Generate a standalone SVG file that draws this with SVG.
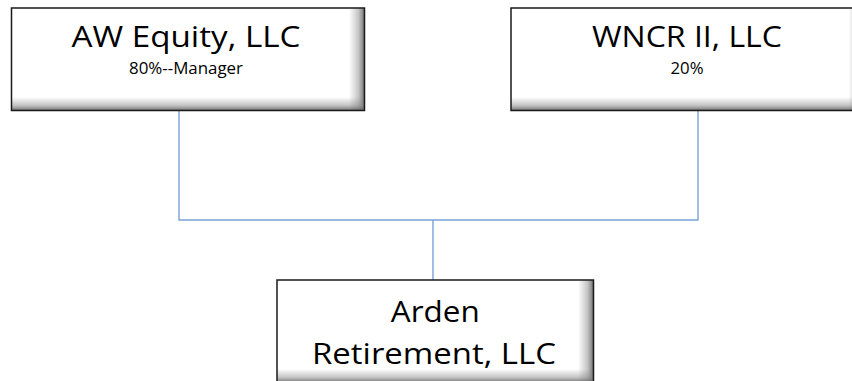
<svg xmlns="http://www.w3.org/2000/svg" width="852" height="381" viewBox="0 0 852 381">
<defs>
<linearGradient id="gr" x1="0" y1="0" x2="1" y2="0">
<stop offset="0" stop-color="#808080" stop-opacity="0"/>
<stop offset="0.6" stop-color="#808080" stop-opacity="0.45"/>
<stop offset="1" stop-color="#606060" stop-opacity="0.9"/>
</linearGradient>
<linearGradient id="gb" x1="0" y1="0" x2="0" y2="1">
<stop offset="0" stop-color="#808080" stop-opacity="0"/>
<stop offset="0.6" stop-color="#808080" stop-opacity="0.45"/>
<stop offset="1" stop-color="#606060" stop-opacity="0.9"/>
</linearGradient>
<style>
.box{fill:#ffffff}
.edge{fill:none;stroke:#1a1a1a;stroke-width:1.5}
.t{font-family:"Open Sans","Liberation Sans",sans-serif;font-size:29px;fill:#000;text-anchor:middle}
.s{font-family:"Open Sans","Liberation Sans",sans-serif;font-size:16px;fill:#000;text-anchor:middle}
.c{fill:none;stroke:#7aa2d8;stroke-width:1.4}
</style>
</defs>
<g id="connectors">
<polyline class="c" points="179,110 179,220 698,220 698,110"/>
<line class="c" x1="433" y1="220" x2="433" y2="280"/>
</g>
<g id="aw-equity">
<rect class="box" x="11.5" y="8" width="353" height="102.5"/>
<rect x="349" y="8" width="15.5" height="102.5" fill="url(#gr)"/>
<rect x="11.5" y="97" width="353" height="13.5" fill="url(#gb)"/>
<rect class="edge" x="11.5" y="8" width="353" height="102.5"/>
<text class="t" x="186" y="46.7" textLength="229" lengthAdjust="spacingAndGlyphs">AW Equity, LLC</text>
<text class="s" x="186" y="74.3" textLength="114" lengthAdjust="spacingAndGlyphs">80%--Manager</text>
</g>
<g id="wncr">
<rect class="box" x="511" y="8" width="353" height="102.5"/>
<rect x="848.5" y="8" width="15.5" height="102.5" fill="url(#gr)"/>
<rect x="511" y="97" width="353" height="13.5" fill="url(#gb)"/>
<rect class="edge" x="511" y="8" width="353" height="102.5"/>
<text class="t" x="687" y="46.7" textLength="190" lengthAdjust="spacingAndGlyphs">WNCR II, LLC</text>
<text class="s" x="687" y="74.3" textLength="33" lengthAdjust="spacingAndGlyphs">20%</text>
</g>
<g id="arden">
<rect class="box" x="277" y="280" width="316.5" height="102.5"/>
<rect x="578" y="280" width="15.5" height="102.5" fill="url(#gr)"/>
<rect x="277" y="369" width="316.5" height="13.5" fill="url(#gb)"/>
<rect class="edge" x="277" y="280" width="316.5" height="102.5"/>
<text class="t" x="435.3" y="322.3" textLength="89" lengthAdjust="spacingAndGlyphs">Arden</text>
<text class="t" x="434" y="364" textLength="244" lengthAdjust="spacingAndGlyphs">Retirement, LLC</text>
</g>
</svg>
